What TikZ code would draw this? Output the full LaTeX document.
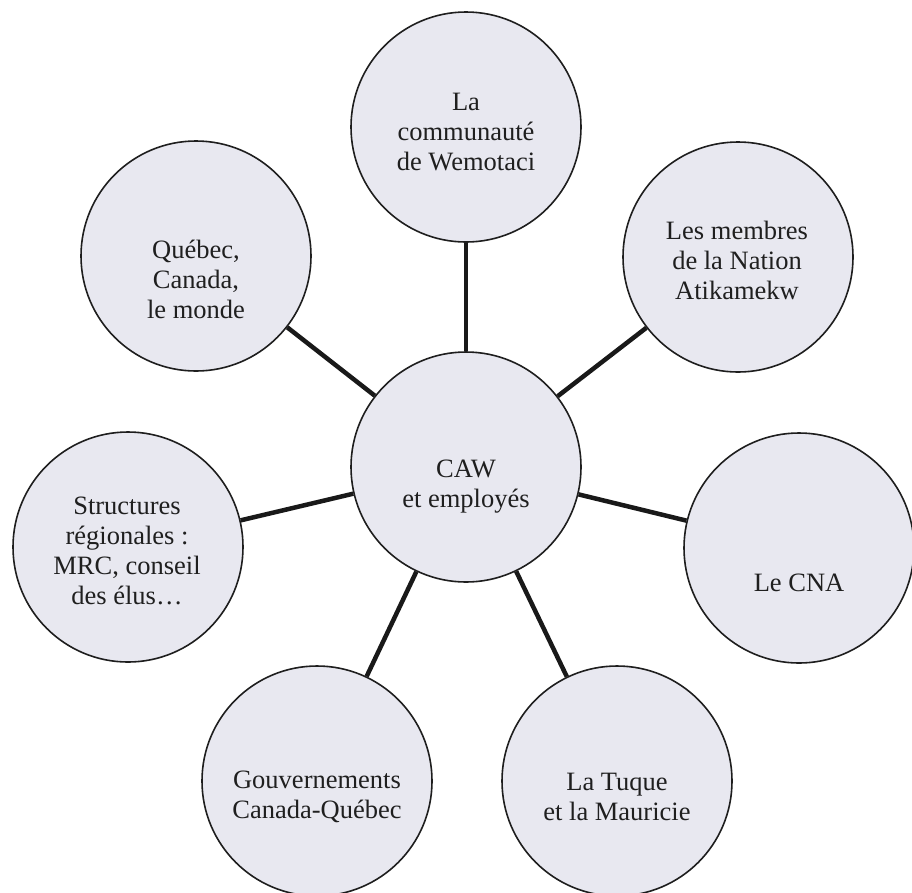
\documentclass[tikz,border=0pt]{standalone}
\usepackage{fontspec}
\setmainfont{Liberation Serif}
\definecolor{bubble}{HTML}{E8E8F0}
\definecolor{rim}{HTML}{1E1E1E}
\begin{document}
\begin{tikzpicture}[x=1pt,y=-1pt,
  bub/.style={circle,draw=rim,line width=1.6pt,fill=bubble,minimum size=230pt,inner sep=0pt},
  lbl/.style={align=center,font=\fontsize{26.5}{30}\selectfont,text=black!88},
  link/.style={line width=4.5pt,draw=black!90}]
\useasboundingbox (0,0) rectangle (912,892);
\clip (0,0) rectangle (912,892);
\fill[white] (0,0) rectangle (912,892);
% circles
\node[bub] (c)  at (466,467) {};
\node[bub] (t)  at (466,127) {};
\node[bub] (tl) at (196,256) {};
\node[bub] (tr) at (738,257) {};
\node[bub] (l)  at (128,547) {};
\node[bub] (r)  at (799,548) {};
\node[bub] (bl) at (317,781) {};
\node[bub] (br) at (617,781) {};
% connectors
\draw[link] (c) -- (t);
\draw[link] (c) -- (tl);
\draw[link] (c) -- (tr);
\draw[link] (c) -- (l);
\draw[link] (c) -- (r);
\draw[link] (c) -- (bl);
\draw[link] (c) -- (br);
% labels
\node[lbl] (tc) at (466,132) {La\\communauté\\de Wemotaci};
\node[lbl] (tlc) at (196,279) {Québec,\\Canada,\\le monde};
\node[lbl] (trc) at (737,260) {Les membres\\de la Nation\\Atikamekw};
\node[lbl] (cc) at (466,487) {CAW\\et employés};
\node[lbl] (lc) at (127,551) {Structures\\régionales :\\MRC, conseil\\des élus\ldots};
\node[lbl] (rc) at (799,583) {Le CNA};
\node[lbl] (blc) at (317,797) {Gouvernements\\Canada-Québec};
\node[lbl] (brc) at (617,797) {La Tuque\\et la Mauricie};
\end{tikzpicture}
\end{document}
